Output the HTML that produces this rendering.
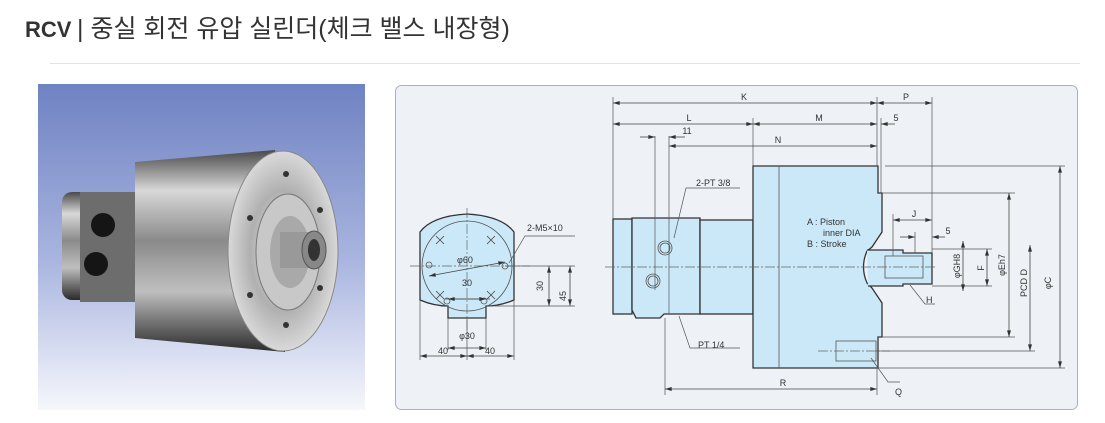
<!DOCTYPE html>
<html><head><meta charset="utf-8"><style>
html,body{margin:0;padding:0;background:#fff;width:1105px;height:423px;overflow:hidden}
body{font-family:"Liberation Sans","Noto Sans CJK KR",sans-serif}
</style></head><body>
<svg width="1105" height="423" viewBox="0 0 1105 423" xmlns="http://www.w3.org/2000/svg" style="position:absolute;left:0;top:0">
<defs>
<linearGradient id="bg" x1="0" y1="0" x2="0" y2="1"><stop offset="0" stop-color="#6f82c2"/><stop offset="0.55" stop-color="#aab6e0"/><stop offset="1" stop-color="#f6f7fc"/></linearGradient>
<linearGradient id="metal" x1="0" y1="0" x2="0" y2="1"><stop offset="0" stop-color="#4a4a4a"/><stop offset="0.2" stop-color="#d8d8d8"/><stop offset="0.45" stop-color="#8a8a8a"/><stop offset="0.7" stop-color="#bfbfbf"/><stop offset="1" stop-color="#2a2a2a"/></linearGradient>
<radialGradient id="face" cx="0.5" cy="0.5" r="0.5"><stop offset="0" stop-color="#e8e8e8"/><stop offset="0.6" stop-color="#b0b0b0"/><stop offset="1" stop-color="#d9d9d9"/></radialGradient>
<marker id="a" viewBox="0 0 10 6" refX="10" refY="3" markerWidth="10" markerHeight="4" orient="auto-start-reverse" markerUnits="userSpaceOnUse"><path d="M0 0 L10 3 L0 6 Z" fill="#333"/></marker>
</defs>
<text x="25" y="37" font-size="22" font-weight="bold" fill="#333">RCV</text>
<text x="77" y="37" font-size="25" fill="#333">| 중실 회전 유압 실린더(체크 밸스 내장형)</text>
<line x1="50" y1="63.5" x2="1080" y2="63.5" stroke="#e3e3e3"/>
<!-- photo -->
<rect x="38" y="84" width="327" height="326" fill="url(#bg)"/>
<rect x="62" y="192" width="80" height="108" rx="10" fill="url(#metal)"/>
<rect x="80" y="192" width="55" height="110" fill="#6d6d6d"/>
<circle cx="103" cy="225" r="12" fill="#151515"/><circle cx="96" cy="264" r="12" fill="#151515"/>
<path d="M135 162 L275 150 L285 352 L135 338 Z" fill="url(#metal)"/>
<ellipse cx="283" cy="251" rx="55" ry="100" fill="url(#face)" stroke="#888"/>
<ellipse cx="288" cy="252" rx="32" ry="58" fill="#c8c8c8" stroke="#777"/>
<ellipse cx="290" cy="252" rx="20" ry="36" fill="#a9a9a9"/>
<rect x="280" y="232" width="30" height="36" fill="#999"/>
<ellipse cx="314" cy="250" rx="12" ry="19" fill="#888" stroke="#555"/>
<ellipse cx="314" cy="250" rx="6" ry="11" fill="#333"/>
<g fill="#333"><circle cx="286" cy="174" r="3"/><circle cx="320" cy="210" r="3"/><circle cx="250" cy="218" r="3"/><circle cx="320" cy="288" r="3"/><circle cx="250" cy="295" r="3"/><circle cx="286" cy="325" r="3"/></g>
<!-- drawing panel -->
<rect x="395.5" y="85.5" width="682" height="324" rx="6" fill="#eef2f6" stroke="#a8b0ba"/>
<g fill="#cbe8f8" stroke="#333" stroke-width="1.3">
<path d="M420 232 Q432 216 467 214 Q502 216 514 232 L514 300 Q500 306 486 306 L486 318 L448 318 L448 306 Q434 306 420 300 Z"/>
<rect x="613" y="219" width="19" height="95"/>
<path d="M632 218 L700 218 L700 314 L664 314 L660 318 L636 318 L632 310 Z"/>
<rect x="700" y="220" width="53" height="94"/>
<path d="M753 166 L878 166 L878 193 L882 193 L882 232 L872 247 L867 251 Q860 267 867 283 L872 288 L882 303 L882 337 L878 337 L878 368 L753 368 Z"/>
<path d="M867 250 L903 250 L903 253 L932 253 L932 284 L903 284 L903 286 L868 286"/>
</g>
<g fill="none" stroke="#555" stroke-width="0.8">
<circle cx="467" cy="266" r="45"/>
<circle cx="665" cy="248" r="7"/><circle cx="665" cy="248" r="5"/>
<circle cx="653" cy="281" r="7"/><circle cx="653" cy="281" r="5"/>
<line x1="779" y1="166" x2="779" y2="368"/>
<rect x="885" y="256" width="38" height="22"/>
<rect x="836" y="341" width="40" height="20"/>
<circle cx="429" cy="265" r="3"/><circle cx="505" cy="266" r="3"/><circle cx="447" cy="301" r="3"/><circle cx="484" cy="301" r="3"/>
</g>
<g stroke="#444" stroke-width="0.8">
<path d="M436 236 l8 8 m0 -8 l-8 8 M487 236 l8 8 m0 -8 l-8 8 M436 291 l8 8 m0 -8 l-8 8 M487 291 l8 8 m0 -8 l-8 8" />
</g>
<g stroke="#666" stroke-width="0.7" stroke-dasharray="10 2 2 2" fill="none">
<line x1="410" y1="266" x2="530" y2="266"/><line x1="467" y1="208" x2="467" y2="332"/>
<line x1="605" y1="267" x2="935" y2="267"/><line x1="818" y1="351" x2="890" y2="351"/>
</g>
<!-- extension / leader lines -->
<g stroke="#555" stroke-width="0.7" fill="none">
<path d="M613 97 V219 M877 97 V166 M932 97 V253 M753 118 V166 M669 136 V314 M655 136 V290 M881 118 V193 M665 318 V395 M877 368 V395
M885 166 H1065 M882 193 H1015 M882 337 H1015 M876 351 H1035 M878 368 H1065 M932 249 H992 M932 286 H992 M893 214 V256 M915 232 V253
M420 300 V360 M514 300 V360 M467 318 V360 M448 318 V350 M486 318 V350 M505 266 H575 M490 306 H575 M445 299 H490
M509 263 L525 236 H575 M674 238 L686 188 H740 M679 316 L690 348 H740 M910 285 L925 304 H935 M871 358 L888 382 H900"/>
</g>
<!-- dimension lines with arrows -->
<g stroke="#444" stroke-width="0.8" fill="none" marker-start="url(#a)" marker-end="url(#a)">
<path d="M613 103 H877"/><path d="M877 103 H932"/>
<path d="M613 124 H753"/><path d="M753 124 H877"/>
<path d="M669 146 H877"/>
<path d="M665 389 H877"/>
<path d="M1060 166 V368"/><path d="M1030 245 V351"/><path d="M1009 193 V337"/><path d="M987 249 V286"/><path d="M963 241 V291"/>
<path d="M893 220 H932"/>
<path d="M420 356 H467"/><path d="M467 356 H514"/><path d="M448 348 H486"/><path d="M448 299 H486"/>
<path d="M549 266 V306"/><path d="M570 266 V306"/>
<path d="M429 276 L505 262"/>
</g>
<g stroke="#444" stroke-width="0.8" fill="none">
<path d="M640 137 H655" marker-end="url(#a)"/><path d="M685 137 H669" marker-end="url(#a)"/>
<path d="M895 124 H881" marker-end="url(#a)"/>
<path d="M900 237 H915" marker-end="url(#a)"/><path d="M945 237 H932" marker-end="url(#a)"/>
</g>
<g fill="#333" font-size="9">
<text x="744" y="100" text-anchor="middle">K</text><text x="906" y="100" text-anchor="middle">P</text>
<text x="689" y="121" text-anchor="middle">L</text><text x="819" y="121" text-anchor="middle">M</text><text x="896" y="121" text-anchor="middle">5</text>
<text x="687" y="134" text-anchor="middle">11</text><text x="778" y="143" text-anchor="middle">N</text>
<text x="783" y="386" text-anchor="middle">R</text>
<text x="696" y="186">2-PT 3/8</text><text x="698" y="348">PT 1/4</text>
<text x="807" y="225">A : Piston</text><text x="823" y="236">inner DIA</text><text x="807" y="247">B : Stroke</text>
<text x="914" y="217" text-anchor="middle">J</text><text x="948" y="234" text-anchor="middle">5</text>
<text x="926" y="303">H</text><text x="895" y="395">Q</text>
<text x="527" y="231">2-M5×10</text><text x="457" y="263">φ60</text><text x="467" y="286" text-anchor="middle">30</text>
<text x="467" y="339" text-anchor="middle">φ30</text><text x="443" y="354" text-anchor="middle">40</text><text x="490" y="354" text-anchor="middle">40</text>
<text transform="translate(543 286) rotate(-90)" text-anchor="middle">30</text>
<text transform="translate(566 296) rotate(-90)" text-anchor="middle">45</text>
<text transform="translate(960 266) rotate(-90)" text-anchor="middle">φGH8</text>
<text transform="translate(984 268) rotate(-90)" text-anchor="middle">F</text>
<text transform="translate(1005 265) rotate(-90)" text-anchor="middle">φEh7</text>
<text transform="translate(1027 283) rotate(-90)" text-anchor="middle">PCD D</text>
<text transform="translate(1051 283) rotate(-90)" text-anchor="middle">φC</text>
</g>
</svg>
</body></html>
